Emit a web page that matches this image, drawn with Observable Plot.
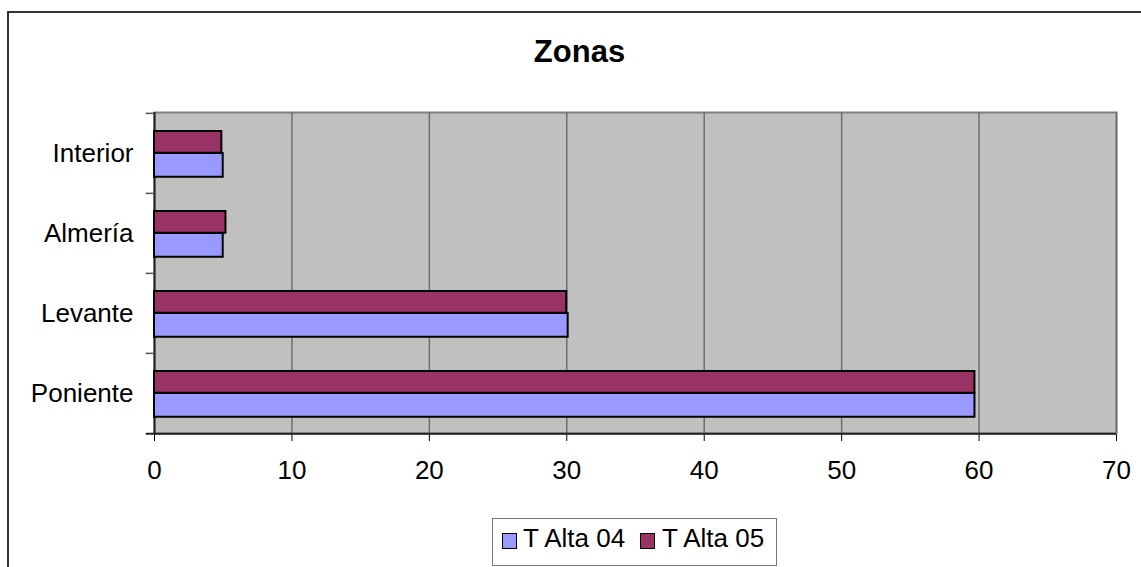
<!DOCTYPE html>
<html>
<head>
<meta charset="utf-8">
<script src="https://cdn.jsdelivr.net/npm/d3@7"></script>
<script src="https://cdn.jsdelivr.net/npm/@observablehq/plot@0.6"></script>
<style>
  html, body { margin: 0; padding: 0; background: #fff; }
  #wrap { position: relative; width: 1141px; height: 567px; overflow: hidden; font-family: "Liberation Sans", Arial, sans-serif; }
  #outer { position: absolute; left: 7px; top: 11px; width: 1200px; height: 700px; border-left: 2px solid #333; border-top: 2px solid #333; }
  #chart { position: absolute; left: 0; top: 0; }
  #title { position: absolute; left: 579.5px; top: 36px; transform: translateX(-50%); font-weight: bold; font-size: 31px; line-height: 31px; color: #000; white-space: nowrap; }
  #legend { position: absolute; left: 492px; top: 518px; width: 285px; height: 48px; border: 1.5px solid #777; box-sizing: border-box; }
  .sw { position: absolute; top: 533px; width: 13px; height: 14px; border: 1.5px solid #000; }
  .lt { position: absolute; top: 525px; font-size: 26px; line-height: 26px; color: #000; white-space: nowrap; }
</style>
</head>
<body>
<div id="wrap">
  <div id="outer"></div>
  <div id="chart"></div>
  <div id="title"></div>
  <div id="legend"></div>
</div>
<script>
// ---- data ----
const title = "Zonas";
const zones = ["Interior", "Almería", "Levante", "Poniente"];
const seriesNames = ["T Alta 04", "T Alta 05"];
const seriesColors = ["#9999FF", "#993366"];
const alta04 = [5.0, 5.0, 30.1, 59.7];
const alta05 = [4.9, 5.2, 30.0, 59.7];
const xTicks = [0, 10, 20, 30, 40, 50, 60, 70];

const rows04 = zones.map((z, i) => ({zone: z, value: alta04[i]}));
const rows05 = zones.map((z, i) => ({zone: z, value: alta05[i]}));

const W = 1141, H = 490, mTop = 112, mBottom = 57, mLeft = 154, mRight = 25;
const bw = (H - mTop - mBottom) / zones.length; // band height

const plot = Plot.plot({
  width: W,
  height: H,
  marginTop: mTop,
  marginBottom: mBottom,
  marginLeft: mLeft,
  marginRight: mRight,
  style: {fontSize: "26px", fontFamily: "'Liberation Sans', Arial, sans-serif", color: "#000", background: "transparent"},
  x: {domain: [0, 70], ticks: xTicks, tickSize: 8, tickPadding: 19, label: null, tickFormat: d => String(d)},
  y: {domain: zones, padding: 0, tickSize: 0, tickPadding: 21, label: null},
  marks: [
    Plot.frame({fill: "#C0C0C0", stroke: "#808080", strokeWidth: 2}),
    Plot.ruleX(xTicks.filter(d => d > 0), {stroke: "#6e6e6e", strokeWidth: 1.5}),
    Plot.ruleX([0], {stroke: "#222", strokeWidth: 2}),
    Plot.ruleY([zones[zones.length - 1]], {x1: -0.6, x2: 70, dy: bw / 2, stroke: "#222", strokeWidth: 2}),
    Plot.ruleY(zones, {x1: -0.6, x2: 0, dy: -bw / 2, stroke: "#555", strokeWidth: 1.5}),
    Plot.barX(rows05, {x: "value", y: "zone", fill: seriesColors[1], stroke: "#000", strokeWidth: 2, insetTop: 18, insetBottom: bw - 40}),
    Plot.barX(rows04, {x: "value", y: "zone", fill: seriesColors[0], stroke: "#000", strokeWidth: 2, insetTop: 40, insetBottom: bw - 64})
  ]
});
document.getElementById("chart").appendChild(plot);
document.getElementById("title").textContent = title;

// legend
const wrap = document.getElementById("wrap");
const swX = [502, 640];
const txX = [523, 662];
seriesNames.forEach((name, i) => {
  const sw = document.createElement("div");
  sw.className = "sw";
  sw.style.left = swX[i] + "px";
  sw.style.background = seriesColors[i];
  wrap.appendChild(sw);
  const t = document.createElement("div");
  t.className = "lt";
  t.style.left = txX[i] + "px";
  t.textContent = name;
  wrap.appendChild(t);
});
</script>
</body>
</html>
